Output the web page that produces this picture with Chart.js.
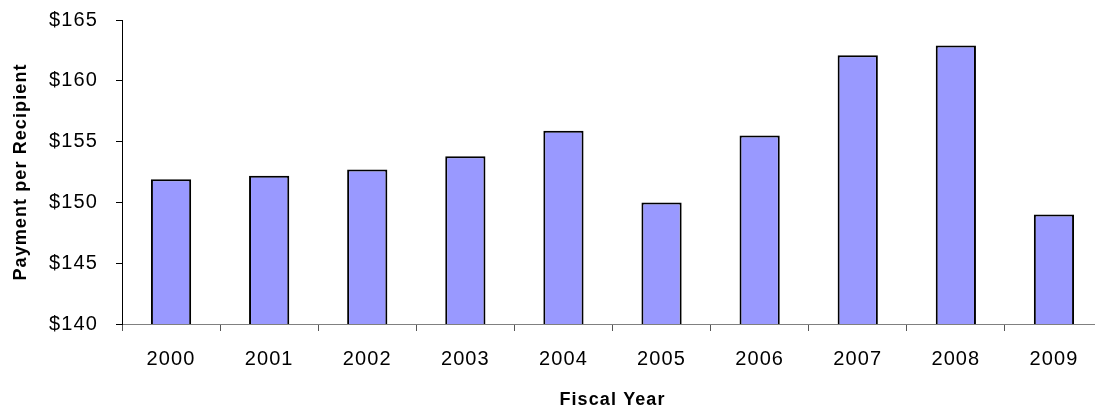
<!DOCTYPE html>
<html>
<head>
<meta charset="utf-8">
<script src="https://cdn.jsdelivr.net/npm/chart.js@4/dist/chart.umd.min.js"></script>
<style>
  html, body { margin: 0; padding: 0; background: #fff; overflow: hidden; }
  #wrap { position: relative; width: 1110px; height: 411px; }
</style>
</head>
<body>
<div id="wrap"><canvas id="chart"></canvas></div>
<script>
// Fiscal years and average payment per recipient (dollars)
const fiscalYears = ['2000', '2001', '2002', '2003', '2004', '2005', '2006', '2007', '2008', '2009'];
const paymentPerRecipient = [151.9, 152.2, 152.7, 153.8, 155.9, 150.0, 155.5, 162.1, 162.9, 149.0];
const yTicks = { min: 140, max: 165, step: 5 };

// Slightly open letter spacing for all canvas text
const spacingPlugin = {
  id: 'letterSpacing',
  beforeUpdate(chart) { chart.ctx.letterSpacing = '1.1px'; },
  beforeDraw(chart) { chart.ctx.letterSpacing = '1.1px'; }
};

new Chart(document.getElementById('chart'), {
  type: 'bar',
  data: {
    labels: fiscalYears,
    datasets: [{
      data: paymentPerRecipient,
      backgroundColor: '#9999FF',
      borderColor: '#000000',
      borderWidth: 2,
      borderSkipped: false,
      categoryPercentage: 1.0,
      barPercentage: 0.41
    }]
  },
  options: {
    responsive: true,
    maintainAspectRatio: false,
    animation: false,
    devicePixelRatio: 1,
    layout: { autoPadding: false, padding: { left: 0, right: 7, top: 20, bottom: 0 } },
    plugins: {
      legend: { display: false },
      tooltip: { enabled: false }
    },
    scales: {
      x: {
        offset: true,
        grid: {
          offset: true,
          drawOnChartArea: false,
          drawTicks: true,
          tickLength: 7,
          tickColor: '#555555',
          tickWidth: 1
        },
        border: { display: true, color: '#808080', width: 1 },
        ticks: {
          color: '#000',
          padding: 16,
          font: { family: 'Liberation Sans, Arial, sans-serif', size: 20 }
        },
        title: {
          display: true,
          text: 'Fiscal Year',
          color: '#000',
          padding: { top: 0, bottom: 0 },
          font: { family: 'Liberation Sans, Arial, sans-serif', size: 18, weight: 'bold' }
        },
        afterFit(scale) {
          scale.height = 87;
          scale.paddingLeft = 0;
          scale.paddingRight = 0;
        }
      },
      y: {
        min: yTicks.min,
        max: yTicks.max,
        grid: {
          drawOnChartArea: false,
          drawTicks: true,
          tickLength: 6,
          tickColor: '#000',
          tickWidth: 1
        },
        border: { display: true, color: '#000', width: 1 },
        ticks: {
          stepSize: yTicks.step,
          color: '#000',
          padding: 18,
          font: { family: 'Liberation Sans, Arial, sans-serif', size: 20 },
          callback: (v) => '$' + v
        },
        title: {
          display: true,
          text: 'Payment per Recipient',
          color: '#000',
          padding: { top: 10, bottom: 0 },
          font: { family: 'Liberation Sans, Arial, sans-serif', size: 18, weight: 'bold' }
        },
        afterFit(scale) {
          scale.width = 122;
          scale.paddingTop = 0;
          scale.paddingBottom = 0;
        }
      }
    }
  },
  plugins: [spacingPlugin]
});
</script>
</body>
</html>
